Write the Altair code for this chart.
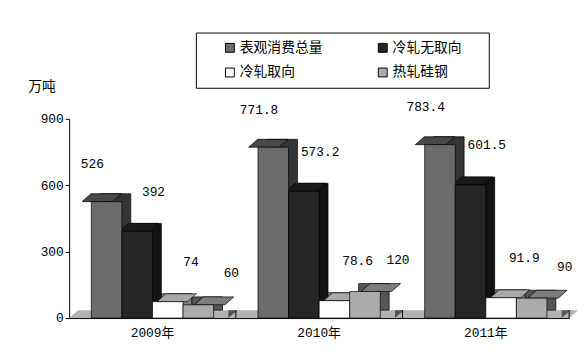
import altair as alt
import pandas as pd

years = ["2009年", "2010年", "2011年"]
series = ["表观消费总量", "冷轧无取向", "冷轧取向", "热轧硅钢"]
total = [526, 771.8, 783.4]
cold_non_oriented = [392, 573.2, 601.5]
cold_oriented = [74, 78.6, 91.9]
hot_rolled = [60, 120, 90]
y_ticks = [0, 300, 600, 900]

front_colors = ["#6b6b6b", "#262626", "#ffffff", "#ababab"]
top_colors = ["#474747", "#1a1a1a", "#a8a8a8", "#7c7c7c"]
side_colors = ["#353535", "#121212", "#808080", "#555555"]
floor_color = "#b2b2b2"

rows = []
for i, yr in enumerate(years):
    for s, vals in zip(series, [total, cold_non_oriented, cold_oriented, hot_rolled]):
        rows.append({"year": yr, "series": s, "value": vals[i]})
df = pd.DataFrame(rows)

W, H = 507, 202
DX, DY = 9, 8
NUM_FONT = "Liberation Mono"
CJK_FONT = "Noto Sans CJK SC"
OUTER = 0.7258  # outer padding of the series band inside each year

# parallelogram shapes (unit box, scaled by sqrt(size)/2)
TOP_PATH = "M -1 0.2 L 0.55 0.2 L 1 -0.2 L -0.55 -0.2 Z"        # 40px wide, 8px tall
TRI_PATH = "M -1 -0.889 L -1 0.889 L 1 -0.889 Z"                 # 9px wide
FLOOR_PATH = "M -1 0.0155 L 0.9651 0.0155 L 1 -0.0155 L -0.9651 -0.0155 Z"  # 516px wide

x_enc = alt.X("year:N", sort=years,
              scale=alt.Scale(paddingInner=0, paddingOuter=0),
              axis=alt.Axis(title=None, labelAngle=0, ticks=False, domain=True,
                            domainColor="black", domainWidth=1,
                            labelFont=NUM_FONT + ", " + CJK_FONT, labelFontSize=13,
                            labelColor="black", labelPadding=9))

def xo(align):
    return alt.XOffset("series:N", sort=series,
                       scale=alt.Scale(domain=series, paddingInner=0,
                                       paddingOuter=OUTER, align=align))

y_enc = alt.Y("value:Q", scale=alt.Scale(domain=[0, 900], nice=False),
              axis=alt.Axis(values=y_ticks, grid=False, domainColor="black",
                            tickColor="black", tickSize=4, labelFont=NUM_FONT,
                            labelFontSize=13, labelColor="black", labelPadding=2,
                            title="万吨", titleAngle=0, titleX=-28, titleY=-33,
                            titleAlign="center", titleBaseline="middle",
                            titleFont=CJK_FONT, titleFontSize=14,
                            titleFontWeight="normal", titleColor="black"))

def fill(colors, legend=None):
    return alt.Fill("series:N", sort=series,
                    scale=alt.Scale(domain=series, range=colors), legend=legend)

base = alt.Chart(df)

floor = alt.Chart(pd.DataFrame({"k": [0]})).mark_point(
    shape=FLOOR_PATH, size=(W + DX) ** 2, filled=True, opacity=1,
    color=floor_color, strokeWidth=0, yOffset=-DY / 2
).encode(x=alt.value((W + DX) / 2), y=alt.datum(0))

# band of 169px, 4 bars of 31px -> 45px outer space; align shifts the group
shadow = base.mark_bar(yOffset=-DY, y2Offset=-DY,
                       stroke="black", strokeWidth=0.7).encode(
    x=x_enc, xOffset=xo((22.5 + DX) / 45), y=y_enc, fill=fill(side_colors))

tri = base.mark_point(shape=TRI_PATH, size=81, filled=True, opacity=1,
                      strokeWidth=0, yOffset=-DY / 2).encode(
    x=x_enc, xOffset=xo((22.5 + 20) / 45), y=alt.datum(0), fill=fill(side_colors))

top = base.mark_point(shape=TOP_PATH, size=1600, filled=True, opacity=1,
                      stroke="black", strokeWidth=0.7,
                      yOffset=-DY / 2).encode(
    x=x_enc, xOffset=xo((22.5 + 4.5) / 45), y=y_enc, fill=fill(top_colors))

legend = alt.Legend(orient="none", legendX=156, legendY=-79, columns=2,
                    direction="horizontal",
                    title=None, symbolType="square", symbolSize=81,
                    symbolStrokeColor="black", symbolStrokeWidth=1,
                    labelFont=CJK_FONT, labelFontSize=14, labelColor="black",
                    labelOffset=3, columnPadding=54, rowPadding=11)

front = base.mark_bar(stroke="black", strokeWidth=0.7).encode(
    x=x_enc, xOffset=xo(0.5), y=y_enc, fill=fill(front_colors, legend))

edge_ticks = alt.Chart(pd.DataFrame({"year": years})).mark_rule(
    color="black", strokeWidth=1, y2Offset=-DY).encode(
    x=alt.X("year:N", sort=years, bandPosition=1),
    y=alt.datum(0), y2=alt.datum(0))

def labels(names, dx, dy):
    return base.transform_filter(
        alt.FieldOneOfPredicate(field="series", oneOf=names)
    ).mark_text(dx=dx, dy=dy, font=NUM_FONT, fontSize=13, color="black",
                baseline="middle", align="center").encode(
        x=x_enc, xOffset=xo(0.5), y=y_enc,
        text=alt.Text("value:Q", format=".4~g"))

lab1 = labels([series[0]], -4, -38)
lab2 = labels([series[1], series[2]], 20, -40)
lab3 = labels([series[3]], 23, -32)

box = alt.Chart(pd.DataFrame({"k": [0]})).mark_rect(
    fill="white", fillOpacity=0, stroke="black", strokeWidth=1).encode(
    x=alt.value(129), x2=alt.value(426), y=alt.value(-87), y2=alt.value(-31))

chart = alt.layer(floor, shadow, tri, top, front, edge_ticks, lab1, lab2, lab3, box).resolve_scale(
    fill="independent", xOffset="independent"
).properties(
    width=W, height=H,
    autosize=alt.AutoSizeParams(type="none"),
    padding={"left": 62, "top": 110, "right": 11, "bottom": 30},
    background="white",
).configure_view(stroke=None)

chart.save("out.html", embed_options={"renderer": "svg", "actions": False})
